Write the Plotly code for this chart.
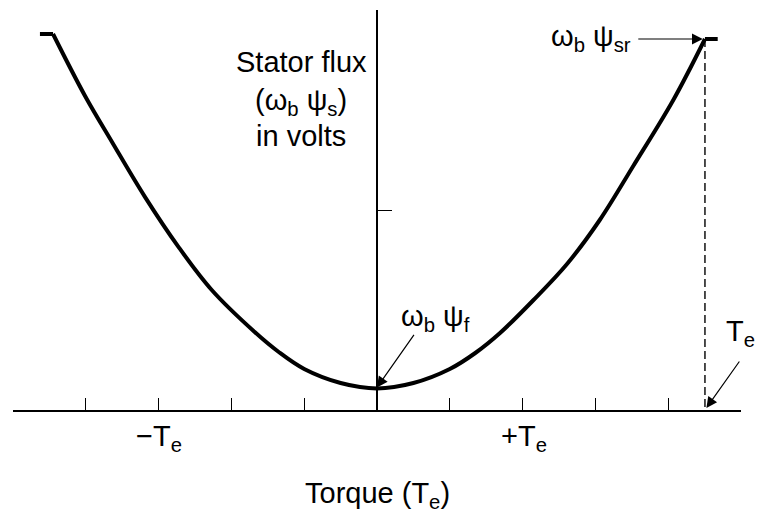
import plotly.graph_objects as go

# ---- data (torque in tick units, stator flux in axis-tick units) ----
torque = [-4.45, -4.01, -3.64, -3.19, -2.73, -2.27, -1.68, -1.35, -1.00, -0.50, 0.00,
          0.50, 1.00, 1.35, 1.69, 2.15, 2.61, 3.06, 3.52, 4.07, 4.505]
flux = [1.88, 1.57, 1.34, 1.067, 0.817, 0.60, 0.39, 0.29, 0.205, 0.135, 0.108,
        0.135, 0.205, 0.285, 0.385, 0.55, 0.73, 0.95, 1.22, 1.55, 1.855]

left_cap_torque = [-4.63, -4.45]
left_cap_flux = [1.88, 1.88]
right_cap_torque = [4.505, 4.68]
right_cap_flux = [1.855, 1.855]

rated_torque = 4.505          # T_em
rated_flux = 1.855            # omega_b psi_sr
field_flux = 0.108            # omega_b psi_f

x_ticks = [-5, -4, -3, -2, -1, 0, 1, 2, 3, 4, 5]
y_ticks = [1, 2]
x_label_pos = [-3.0, 2.02]
x_label_text = ["−T<sub>e</sub>", "+T<sub>e</sub>"]

FONT = "Liberation Sans, Arial, Helvetica, sans-serif"
FS = 29

fig = go.Figure()

fig.add_trace(go.Scatter(x=torque, y=flux, mode="lines",
                         line=dict(color="black", width=4, shape="spline", smoothing=1.0),
                         hoverinfo="skip", showlegend=False))
fig.add_trace(go.Scatter(x=left_cap_torque, y=left_cap_flux, mode="lines",
                         line=dict(color="black", width=4), hoverinfo="skip", showlegend=False))
fig.add_trace(go.Scatter(x=right_cap_torque, y=right_cap_flux, mode="lines",
                         line=dict(color="black", width=4), hoverinfo="skip", showlegend=False))
# dashed drop line at rated torque
fig.add_trace(go.Scatter(x=[rated_torque, rated_torque], y=[rated_flux, 0], mode="lines",
                         line=dict(color="black", width=1.4, dash="8px,4px"),
                         hoverinfo="skip", showlegend=False))

# page body has an 8px margin, so the figure is 8px smaller on each side
W, H = 755, 508
OFF = 8
x0px, x1px = 13 - OFF, 741 - OFF
ytop, ybot = 10 - OFF, 410 - OFF
yaxis_x = 377 - OFF

fig.update_layout(
    width=W, height=H,
    margin=dict(l=0, r=0, t=0, b=0, autoexpand=False),
    paper_bgcolor="white", plot_bgcolor="white",
    font=dict(family=FONT, size=FS, color="black"),
    xaxis=dict(range=[-5, 5], domain=[x0px / W, x1px / W], anchor="y",
               showline=True, linecolor="black", linewidth=1.5,
               ticks="inside", ticklen=12, tickwidth=1.3, tickcolor="black",
               tickvals=x_ticks, showticklabels=False,
               showgrid=False, zeroline=False),
    yaxis=dict(range=[0, 2], domain=[(H - ybot) / H, (H - ytop) / H],
               anchor="free", position=yaxis_x / W, side="left",
               showline=True, linecolor="black", linewidth=1.5,
               ticks="inside", ticklen=14, tickwidth=1.3, tickcolor="black",
               tickvals=y_ticks, showticklabels=False,
               showgrid=False, zeroline=False),
)


def txt(x, y, s, xanchor="center", yref="y"):
    fig.add_annotation(x=x, y=y, xref="x", yref=yref, text=s, showarrow=False,
                       xanchor=xanchor, yanchor="middle",
                       font=dict(family=FONT, size=FS, color="black"))


def arrow(x, y, ax, ay):
    fig.add_annotation(x=x, y=y, xref="x", yref="y", text="", showarrow=True,
                       ax=ax, ay=ay, arrowhead=2, arrowsize=1.8, arrowwidth=1.2,
                       arrowcolor="black", standoff=0, startstandoff=0)


def page_y(py):
    return (H - (py - OFF)) / H


txt(-1.044, 1.74, "Stator flux")
txt(-1.044, 1.54, "(ω<sub>b</sub> ψ<sub>s</sub>)")
txt(-1.044, 1.37, "in volts")
txt(2.94, 1.86, "ω<sub>b</sub> ψ<sub>sr</sub>")
arrow(rated_torque - 0.03, rated_flux, -66, 0)
txt(0.81, 0.46, "ω<sub>b</sub> ψ<sub>f</sub>")
arrow(0.0, field_flux + 0.005, 38, -54)
txt(4.76, 0.385, "T<sub>em</sub>", xanchor="left")
arrow(rated_torque + 0.02, 0.01, 34, -48)
for xp, lab in zip(x_label_pos, x_label_text):
    txt(xp, page_y(438), lab, yref="paper")
txt(0.01, page_y(495), "Torque (T<sub>e</sub>)", yref="paper")

fig.write_html("out.html")
